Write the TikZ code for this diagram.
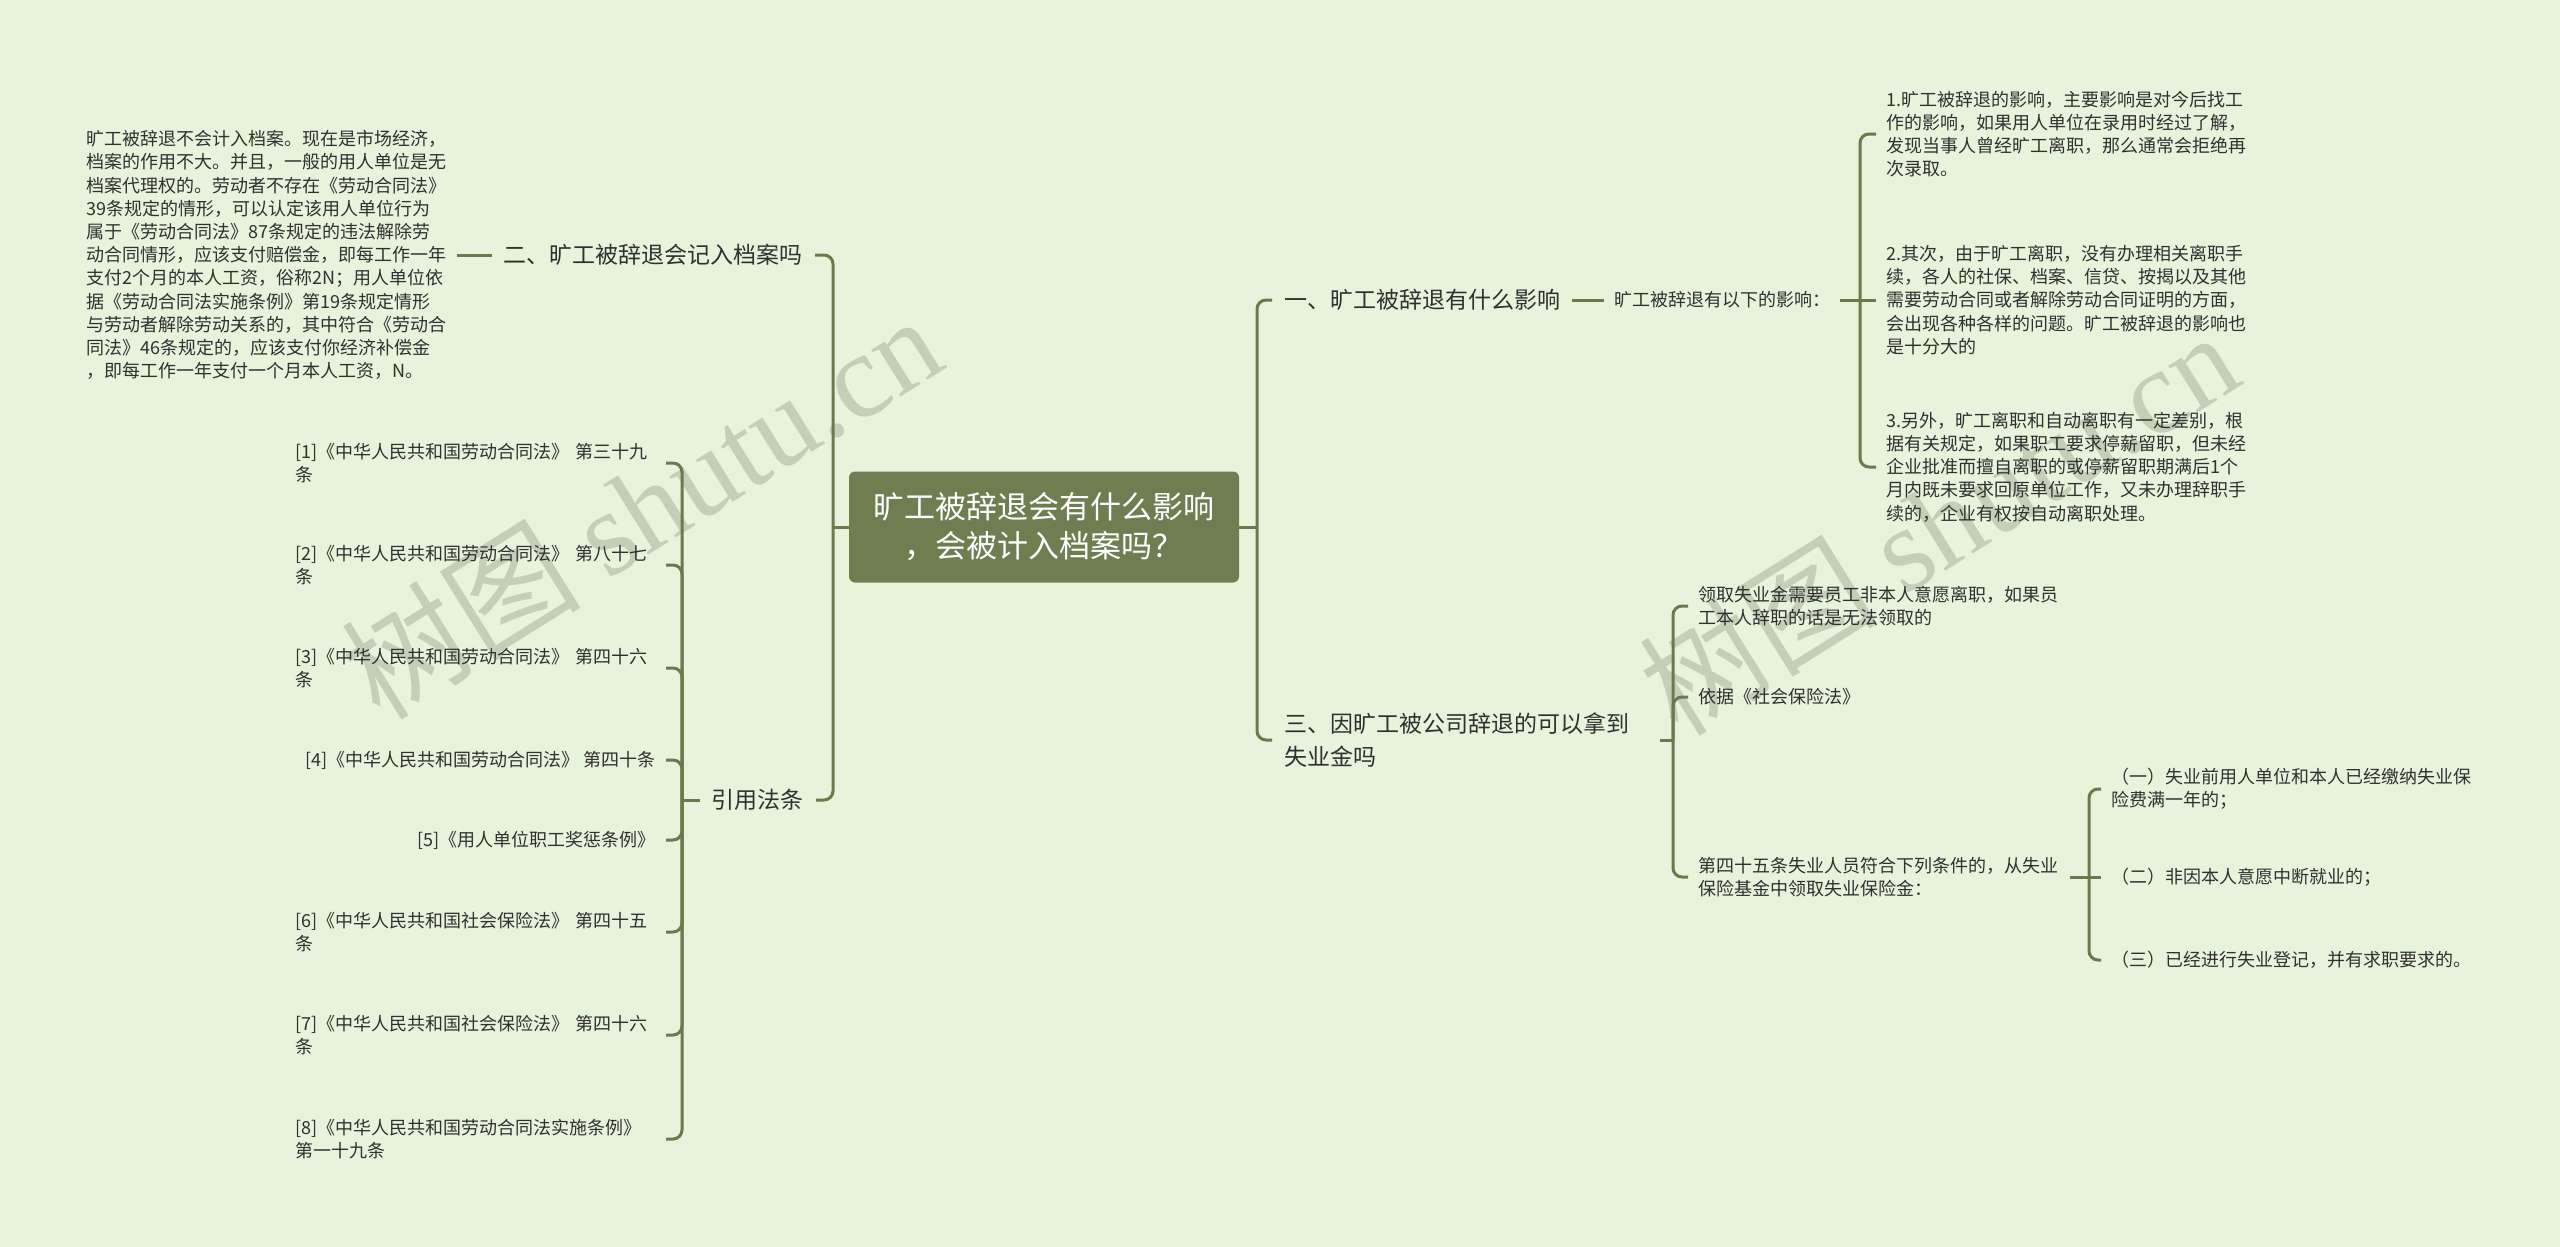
\documentclass[tikz,border=0pt]{standalone}
\usepackage{fontspec}
\setmainfont{Noto Sans CJK SC}
\newfontfamily\wmlatin{Liberation Serif}
\definecolor{bgcol}{RGB}{232,243,219}
\definecolor{rootcol}{RGB}{111,126,81}
\definecolor{linecol}{RGB}{108,121,77}
\definecolor{inkcol}{RGB}{48,48,48}
\definecolor{markcol}{RGB}{197,207,184}
\begin{document}
\begin{tikzpicture}[x=1pt,y=-1pt,
  root/.style={fill=rootcol,rounded corners=6,text=white,minimum width=390,minimum height=111,align=center,font=\fontsize{31}{39}\selectfont},
  topic/.style={text=inkcol,inner xsep=12,align=left,font=\fontsize{23}{33}\selectfont},
  leaf/.style={text=inkcol,inner xsep=10,align=left,font=\fontsize{18}{23.2}\selectfont},
  link/.style={draw=linecol,line width=3,rounded corners=9},
  wmark/.style={text=markcol,rotate=32,font=\fontsize{120}{120}\selectfont}]
  \fill[bgcol] (0,0) rectangle (2560,1247);
  \useasboundingbox (0,0) rectangle (2560,1247);
  \node[wmark] (W1) at (641,506) {树图 {\wmlatin shutu.cn}};
  \node[wmark] (W2) at (1938,522) {树图 {\wmlatin shutu.cn}};

  \node[root] (C) at (1044,527) {旷工被辞退会有什么影响\\，会被计入档案吗？};
  \coordinate (T1) at (1257,527);
  \coordinate (T2) at (833,527);

  \node[topic,anchor=west] (B1) at (1272,300) {一、旷工被辞退有什么影响};
  \node[topic,anchor=west,text width=364] (B3) at (1272,740) {三、因旷工被公司辞退的可以拿到\\失业金吗};
  \node[leaf,anchor=west] (N1) at (1604,300) {旷工被辞退有以下的影响：};
  \coordinate (V1) at (1860,300);
  \node[leaf,anchor=west,text width=362] (I1) at (1876,134) {1.旷工被辞退的影响，主要影响是对今后找工\\作的影响，如果用人单位在录用时经过了解，\\发现当事人曾经旷工离职，那么通常会拒绝再\\次录取。};
  \node[leaf,anchor=west,text width=362] (I2) at (1876,300) {2.其次，由于旷工离职，没有办理相关离职手\\续，各人的社保、档案、信贷、按揭以及其他\\需要劳动合同或者解除劳动合同证明的方面，\\会出现各种各样的问题。旷工被辞退的影响也\\是十分大的};
  \node[leaf,anchor=west,text width=362] (I3) at (1876,467) {3.另外，旷工离职和自动离职有一定差别，根\\据有关规定，如果职工要求停薪留职，但未经\\企业批准而擅自离职的或停薪留职期满后1个\\月内既未要求回原单位工作，又未办理辞职手\\续的，企业有权按自动离职处理。};

  \coordinate (V2) at (1673,740);
  \node[leaf,anchor=west,text width=362] (J1) at (1688,606) {领取失业金需要员工非本人意愿离职，如果员\\工本人辞职的话是无法领取的};
  \node[leaf,anchor=west] (J2) at (1688,697) {依据《社会保险法》};
  \node[leaf,anchor=west,text width=362] (J3) at (1688,877) {第四十五条失业人员符合下列条件的，从失业\\保险基金中领取失业保险金：};
  \coordinate (V3) at (2089,877);
  \node[leaf,anchor=west,text width=380] (K1) at (2101,789) {（一）失业前用人单位和本人已经缴纳失业保\\险费满一年的；};
  \node[leaf,anchor=west] (K2) at (2101,877) {（二）非因本人意愿中断就业的；};
  \node[leaf,anchor=west] (K3) at (2101,960) {（三）已经进行失业登记，并有求职要求的。};

  \node[topic,anchor=east] (A2) at (815,255) {二、旷工被辞退会记入档案吗};
  \node[topic,anchor=east] (A4) at (816,800) {引用法条};
  \node[leaf,anchor=east,text width=360] (L0) at (457,255) {旷工被辞退不会计入档案。现在是市场经济，\\档案的作用不大。并且，一般的用人单位是无\\档案代理权的。劳动者不存在《劳动合同法》\\39条规定的情形，可以认定该用人单位行为\\属于《劳动合同法》87条规定的违法解除劳\\动合同情形，应该支付赔偿金，即每工作一年\\支付2个月的本人工资，俗称2N；用人单位依\\据《劳动合同法实施条例》第19条规定情形\\与劳动者解除劳动关系的，其中符合《劳动合\\同法》46条规定的，应该支付你经济补偿金\\，即每工作一年支付一个月本人工资，N。};
  \coordinate (V4) at (682,800);
  \node[leaf,anchor=east,text width=360] (R1) at (666,463) {[1]《中华人民共和国劳动合同法》 第三十九\\条};
  \node[leaf,anchor=east,text width=360] (R2) at (666,565) {[2]《中华人民共和国劳动合同法》 第八十七\\条};
  \node[leaf,anchor=east,text width=360] (R3) at (666,668) {[3]《中华人民共和国劳动合同法》 第四十六\\条};
  \node[leaf,anchor=east] (R4) at (666,760) {[4]《中华人民共和国劳动合同法》 第四十条};
  \node[leaf,anchor=east] (R5) at (666,840) {[5]《用人单位职工奖惩条例》};
  \node[leaf,anchor=east,text width=360] (R6) at (666,932) {[6]《中华人民共和国社会保险法》 第四十五\\条};
  \node[leaf,anchor=east,text width=360] (R7) at (666,1035) {[7]《中华人民共和国社会保险法》 第四十六\\条};
  \node[leaf,anchor=east,text width=360] (R8) at (666,1139) {[8]《中华人民共和国劳动合同法实施条例》\\第一十九条};

  \draw[link] (C.east) -- (T1);
  \draw[link] (B1.west) -| (T1) |- (B3.west);
  \draw[link] (B1.east) -- (N1.west);
  \draw[link] (N1.east) -- (I2.west);
  \draw[link] (I1.west) -| (V1) |- (I3.west);
  \draw[link] (B3.east) -- (V2);
  \draw[link] (J1.west) -| (V2) |- (J3.west);
  \draw[link] (V2) |- (J2.west);
  \draw[link] (J3.east) -- (K2.west);
  \draw[link] (K1.west) -| (V3) |- (K3.west);

  \draw[link] (C.west) -- (T2);
  \draw[link] (A2.east) -| (T2) |- (A4.east);
  \draw[link] (L0.east) -- (A2.west);
  \draw[link] (A4.west) -- (V4);
  \draw[link] (R1.east) -| (V4) |- (R8.east);
  \draw[link] (V4) |- (R2.east);
  \draw[link] (V4) |- (R3.east);
  \draw[link] (V4) |- (R4.east);
  \draw[link] (V4) |- (R5.east);
  \draw[link] (V4) |- (R6.east);
  \draw[link] (V4) |- (R7.east);
\end{tikzpicture}
\end{document}
